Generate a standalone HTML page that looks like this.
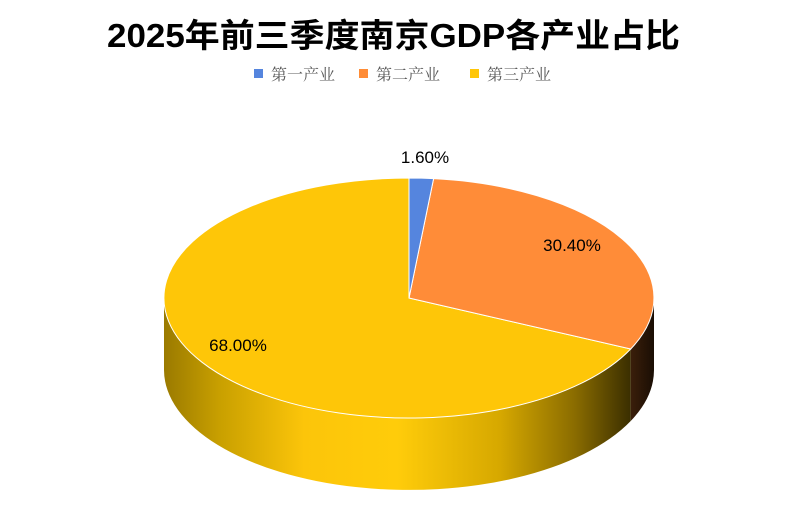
<!DOCTYPE html>
<html><head><meta charset="utf-8"><style>
body{margin:0;background:#fff;}
</style></head><body>
<svg width="804" height="511" viewBox="0 0 804 511" xmlns="http://www.w3.org/2000/svg">
<defs>
<linearGradient id="gy" x1="164" y1="0" x2="631" y2="0" gradientUnits="userSpaceOnUse">
<stop offset="0" stop-color="#9a7a00"/>
<stop offset="0.12" stop-color="#c9a000"/>
<stop offset="0.3" stop-color="#fcc50a"/>
<stop offset="0.5" stop-color="#ffcc0a"/>
<stop offset="0.72" stop-color="#d6a800"/>
<stop offset="0.88" stop-color="#8a6c00"/>
<stop offset="1" stop-color="#3a2e00"/>
</linearGradient>
<linearGradient id="go" x1="631" y1="0" x2="654" y2="0" gradientUnits="userSpaceOnUse">
<stop offset="0" stop-color="#3a1e0a"/>
<stop offset="1" stop-color="#1a0e04"/>
</linearGradient>
</defs>
<text x="107" y="47" textLength="573" lengthAdjust="spacingAndGlyphs" font-family="'Liberation Sans','Noto Sans CJK SC',sans-serif" font-weight="bold" font-size="33" fill="#000">2025年前三季度南京GDP各产业占比</text>
<g font-family="'Liberation Serif','Noto Serif CJK SC',serif" font-size="16" fill="#595959">
<rect x="254" y="69" width="9" height="9" fill="#5585de"/>
<text x="271" y="80">第一产业</text>
<rect x="359" y="69" width="9" height="9" fill="#ff8c36"/>
<text x="376" y="80">第二产业</text>
<rect x="470" y="69" width="9" height="9" fill="#ffc608"/>
<text x="487" y="80">第三产业</text>
</g>
<path d="M654 298 A245 120 0 0 1 630.7 349 L630.7 421 A245 120 0 0 0 654 370 Z" fill="url(#go)"/>
<path d="M630.7 349 A245 120 0 0 1 164 298 L164 370 A245 120 0 0 0 630.7 421 Z" fill="url(#gy)"/>
<path d="M409 298 L630.7 349 A245 120 0 1 1 409 178 Z" fill="#fec608" stroke="#fff" stroke-width="1"/>
<path d="M409 298 L433.6 178.6 A245 120 0 0 1 630.7 349 Z" fill="#ff8c38" stroke="#fff" stroke-width="1"/>
<path d="M409 298 L409 178 A245 120 0 0 1 433.6 178.6 Z" fill="#5585de" stroke="#fff" stroke-width="1"/>
<g font-family="'Liberation Sans',sans-serif" font-size="17" fill="#000">
<text x="425" y="163" text-anchor="middle">1.60%</text>
<text x="572" y="251" text-anchor="middle">30.40%</text>
<text x="238" y="351" text-anchor="middle">68.00%</text>
</g>
</svg>
</body></html>
